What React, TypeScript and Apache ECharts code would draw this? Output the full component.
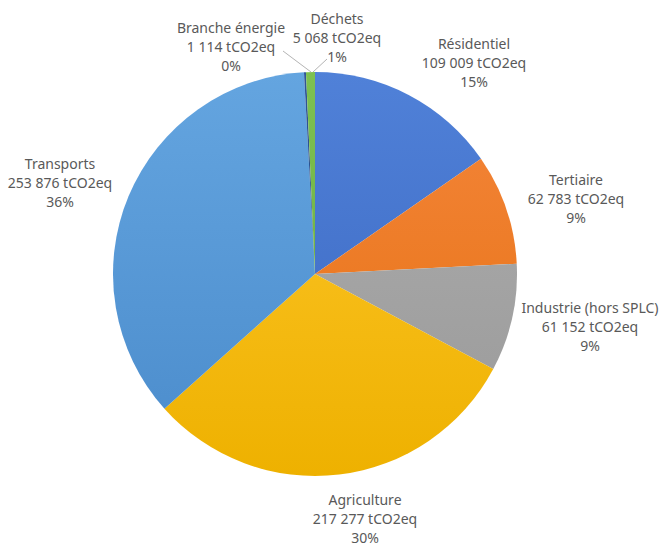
import React, { useEffect, useRef } from "react";
import * as echarts from "echarts";

const categories = [
  "Résidentiel",
  "Tertiaire",
  "Industrie (hors SPLC)",
  "Agriculture",
  "Transports",
  "Branche énergie",
  "Déchets",
];
const values = [109009, 62783, 61152, 217277, 253876, 1114, 5068];
const unit = "tCO2eq";

// styling (not data)
const colorPairs = [
  ["#5081d8", "#3a66c0"],
  ["#f5863c", "#e4700f"],
  ["#aeaeae", "#999999"],
  ["#ffc82e", "#eeb100"],
  ["#64a5e0", "#4a8bcb"],
  ["#2f5597", "#264478"],
  ["#7dc150", "#68a83d"],
];
const labelPos: [number, number][] = [
  [474, 62],
  [576, 198],
  [590, 326],
  [365, 518],
  [60, 182],
  [231, 46],
  [337, 37],
];
const leaderLines: [number, number, number, number][] = [
  [311, 72, 283, 51],
  [313, 72, 327, 59],
];

const fmt = (v: number) => String(v).replace(/\B(?=(\d{3})+(?!\d))/g, " ");

export default function App() {
  const ref = useRef<HTMLDivElement>(null);
  useEffect(() => {
    document.body.style.margin = "0";
    const chart = echarts.init(ref.current!, null, { renderer: "svg" });
    const cx = 315;
    const cy = 274;
    const r = 202;
    chart.setOption({
      animation: false,
      backgroundColor: "#ffffff",
      graphic: {
        elements: leaderLines.map((l) => ({
          type: "line",
          z: 100,
          silent: true,
          shape: { x1: l[0], y1: l[1], x2: l[2], y2: l[3] },
          style: { stroke: "#b4b4b4", lineWidth: 1 },
        })),
      },
      series: [
        {
          type: "pie",
          center: [cx, cy],
          radius: [0, r],
          startAngle: 90,
          clockwise: true,
          percentPrecision: 0,
          avoidLabelOverlap: false,
          data: categories.map((name, i) => ({
            name,
            value: values[i],
            itemStyle: {
              color: {
                type: "linear",
                x: 0,
                y: cy - r,
                x2: 0,
                y2: cy + r,
                global: true,
                colorStops: [
                  { offset: 0, color: colorPairs[i][0] },
                  { offset: 1, color: colorPairs[i][1] },
                ],
              },
            },
          })),
          label: {
            show: true,
            position: "outside",
            formatter: (p: any) => `${p.name}\n${fmt(p.value)} ${unit}\n${p.percent}%`,
            color: "#595959",
            fontFamily: "Noto Sans",
            fontSize: 14,
            lineHeight: 19,
            align: "center",
          },
          labelLine: { show: false },
          labelLayout: (params: any) => {
            const p = labelPos[params.dataIndex];
            return {
              x: p[0],
              y: p[1],
              align: "center",
              verticalAlign: "middle",
            };
          },
        },
      ],
    });
    return () => chart.dispose();
  }, []);
  return (
    <div
      ref={ref}
      style={{ position: "absolute", left: 0, top: 0, width: 666, height: 546 }}
    />
  );
}
